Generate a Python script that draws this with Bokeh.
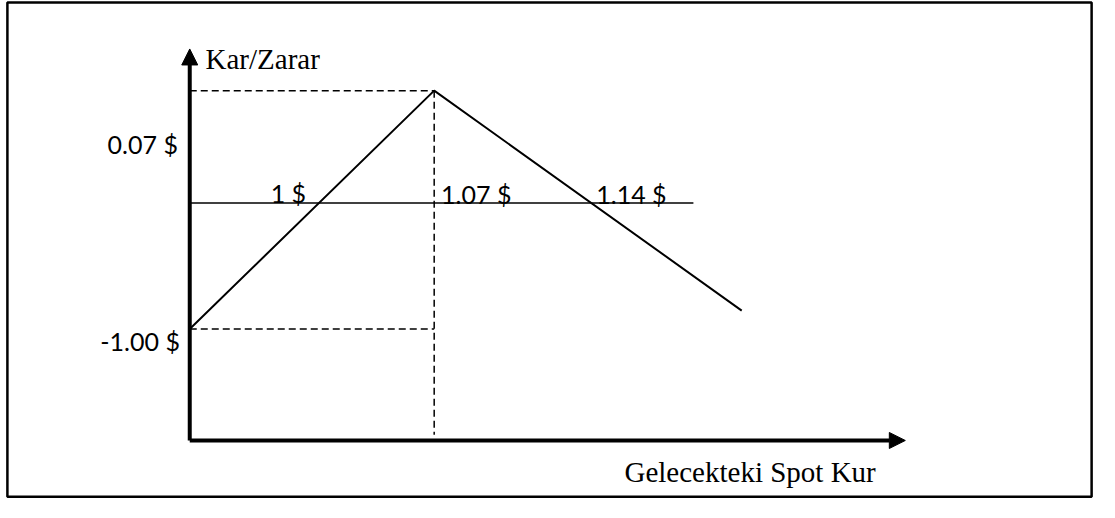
from bokeh.plotting import figure
from bokeh.models import Range1d, Arrow, NormalHead
from bokeh.embed import file_html
from bokeh.resources import INLINE
from bokeh.core.properties import value

# ---- schematic values (diagram units, not to scale) ----
payoff_x = [0, 248, 560]          # start, peak (spot 1.07), end of payoff line
payoff_y = [-130, 116, -111]      # -1.00 $ loss, max profit, falling side
zero_line_end = 511               # length of the zero-profit line
axis_origin_y = -245
y_axis_top = 159
x_axis_right = 726

y_labels = ["0.07 $", "-1.00 $"]
x_labels = ["1 $", "1.07 $", "1.14 $"]
y_title = "Kar/Zarar"
x_title = "Gelecekteki Spot Kur"

SERIF = value("Liberation Serif")
SANS = value("Lato")
SERIF_SIZE = "29px"
SANS_SIZE = "25px"

p = figure(width=1099, height=502, output_backend="svg", toolbar_location=None,
           x_range=Range1d(-192, 923), y_range=Range1d(-309, 209),
           min_border=0, x_axis_location=None, y_axis_location=None)
p.grid.visible = False
p.outline_line_color = None
p.background_fill_color = "white"

# frame border
p.quad(left=[-185], right=[915], bottom=[-303], top=[207],
       fill_color=None, line_color="black", line_width=2.5)

# axes with arrowheads
p.add_layout(Arrow(end=NormalHead(size=16, fill_color="black", line_color="black"),
                   x_start=0, y_start=axis_origin_y, x_end=0, y_end=y_axis_top,
                   line_width=4, line_color="black"))
p.add_layout(Arrow(end=NormalHead(size=16, fill_color="black", line_color="black"),
                   x_start=0, y_start=axis_origin_y, x_end=x_axis_right, y_end=axis_origin_y,
                   line_width=4, line_color="black"))

# zero line
p.line([0, zero_line_end], [0, 0], line_color="black", line_width=1.5)

# payoff line
p.line(payoff_x, payoff_y, line_color="black", line_width=2)

# dashed guides
px, py = payoff_x[1], payoff_y[1]
sx, sy = payoff_x[0], payoff_y[0]
p.line([0, px], [py, py], line_color="black", line_width=1.5, line_dash="7 4")
p.line([px, px], [py, axis_origin_y + 6], line_color="black", line_width=1.5, line_dash="7 4")
p.line([0, px], [sy, sy], line_color="black", line_width=1.5, line_dash="7 4")

# zero crossings
def crossing(x0, y0, x1, y1):
    return x0 + (0 - y0) * (x1 - x0) / (y1 - y0)

c_left = crossing(payoff_x[0], payoff_y[0], payoff_x[1], payoff_y[1])
c_right = crossing(payoff_x[1], payoff_y[1], payoff_x[2], payoff_y[2])

# y labels
p.text(x=[-12, -10], y=[py - 55, sy - 12], text=y_labels, text_align="right",
       text_baseline="alphabetic", text_font=SANS, text_font_size=SANS_SIZE, text_color="black")
# x labels
p.text(x=[c_left - 13], y=[10], text=[x_labels[0]], text_align="right",
       text_baseline="alphabetic", text_font=SANS, text_font_size=SANS_SIZE, text_color="black")
p.text(x=[px + 7, c_right + 5], y=[9, 9], text=x_labels[1:], text_align="left",
       text_baseline="alphabetic", text_font=SANS, text_font_size=SANS_SIZE, text_color="black")

# titles
p.text(x=[16], y=[149], text=[y_title], text_align="left", text_baseline="alphabetic",
       text_font=SERIF, text_font_size=SERIF_SIZE, text_color="black")
p.text(x=[696], y=[-278], text=[x_title], text_align="right", text_baseline="alphabetic",
       text_font=SERIF, text_font_size=SERIF_SIZE, text_color="black")

open("out.html", "w").write(file_html(p, INLINE))
